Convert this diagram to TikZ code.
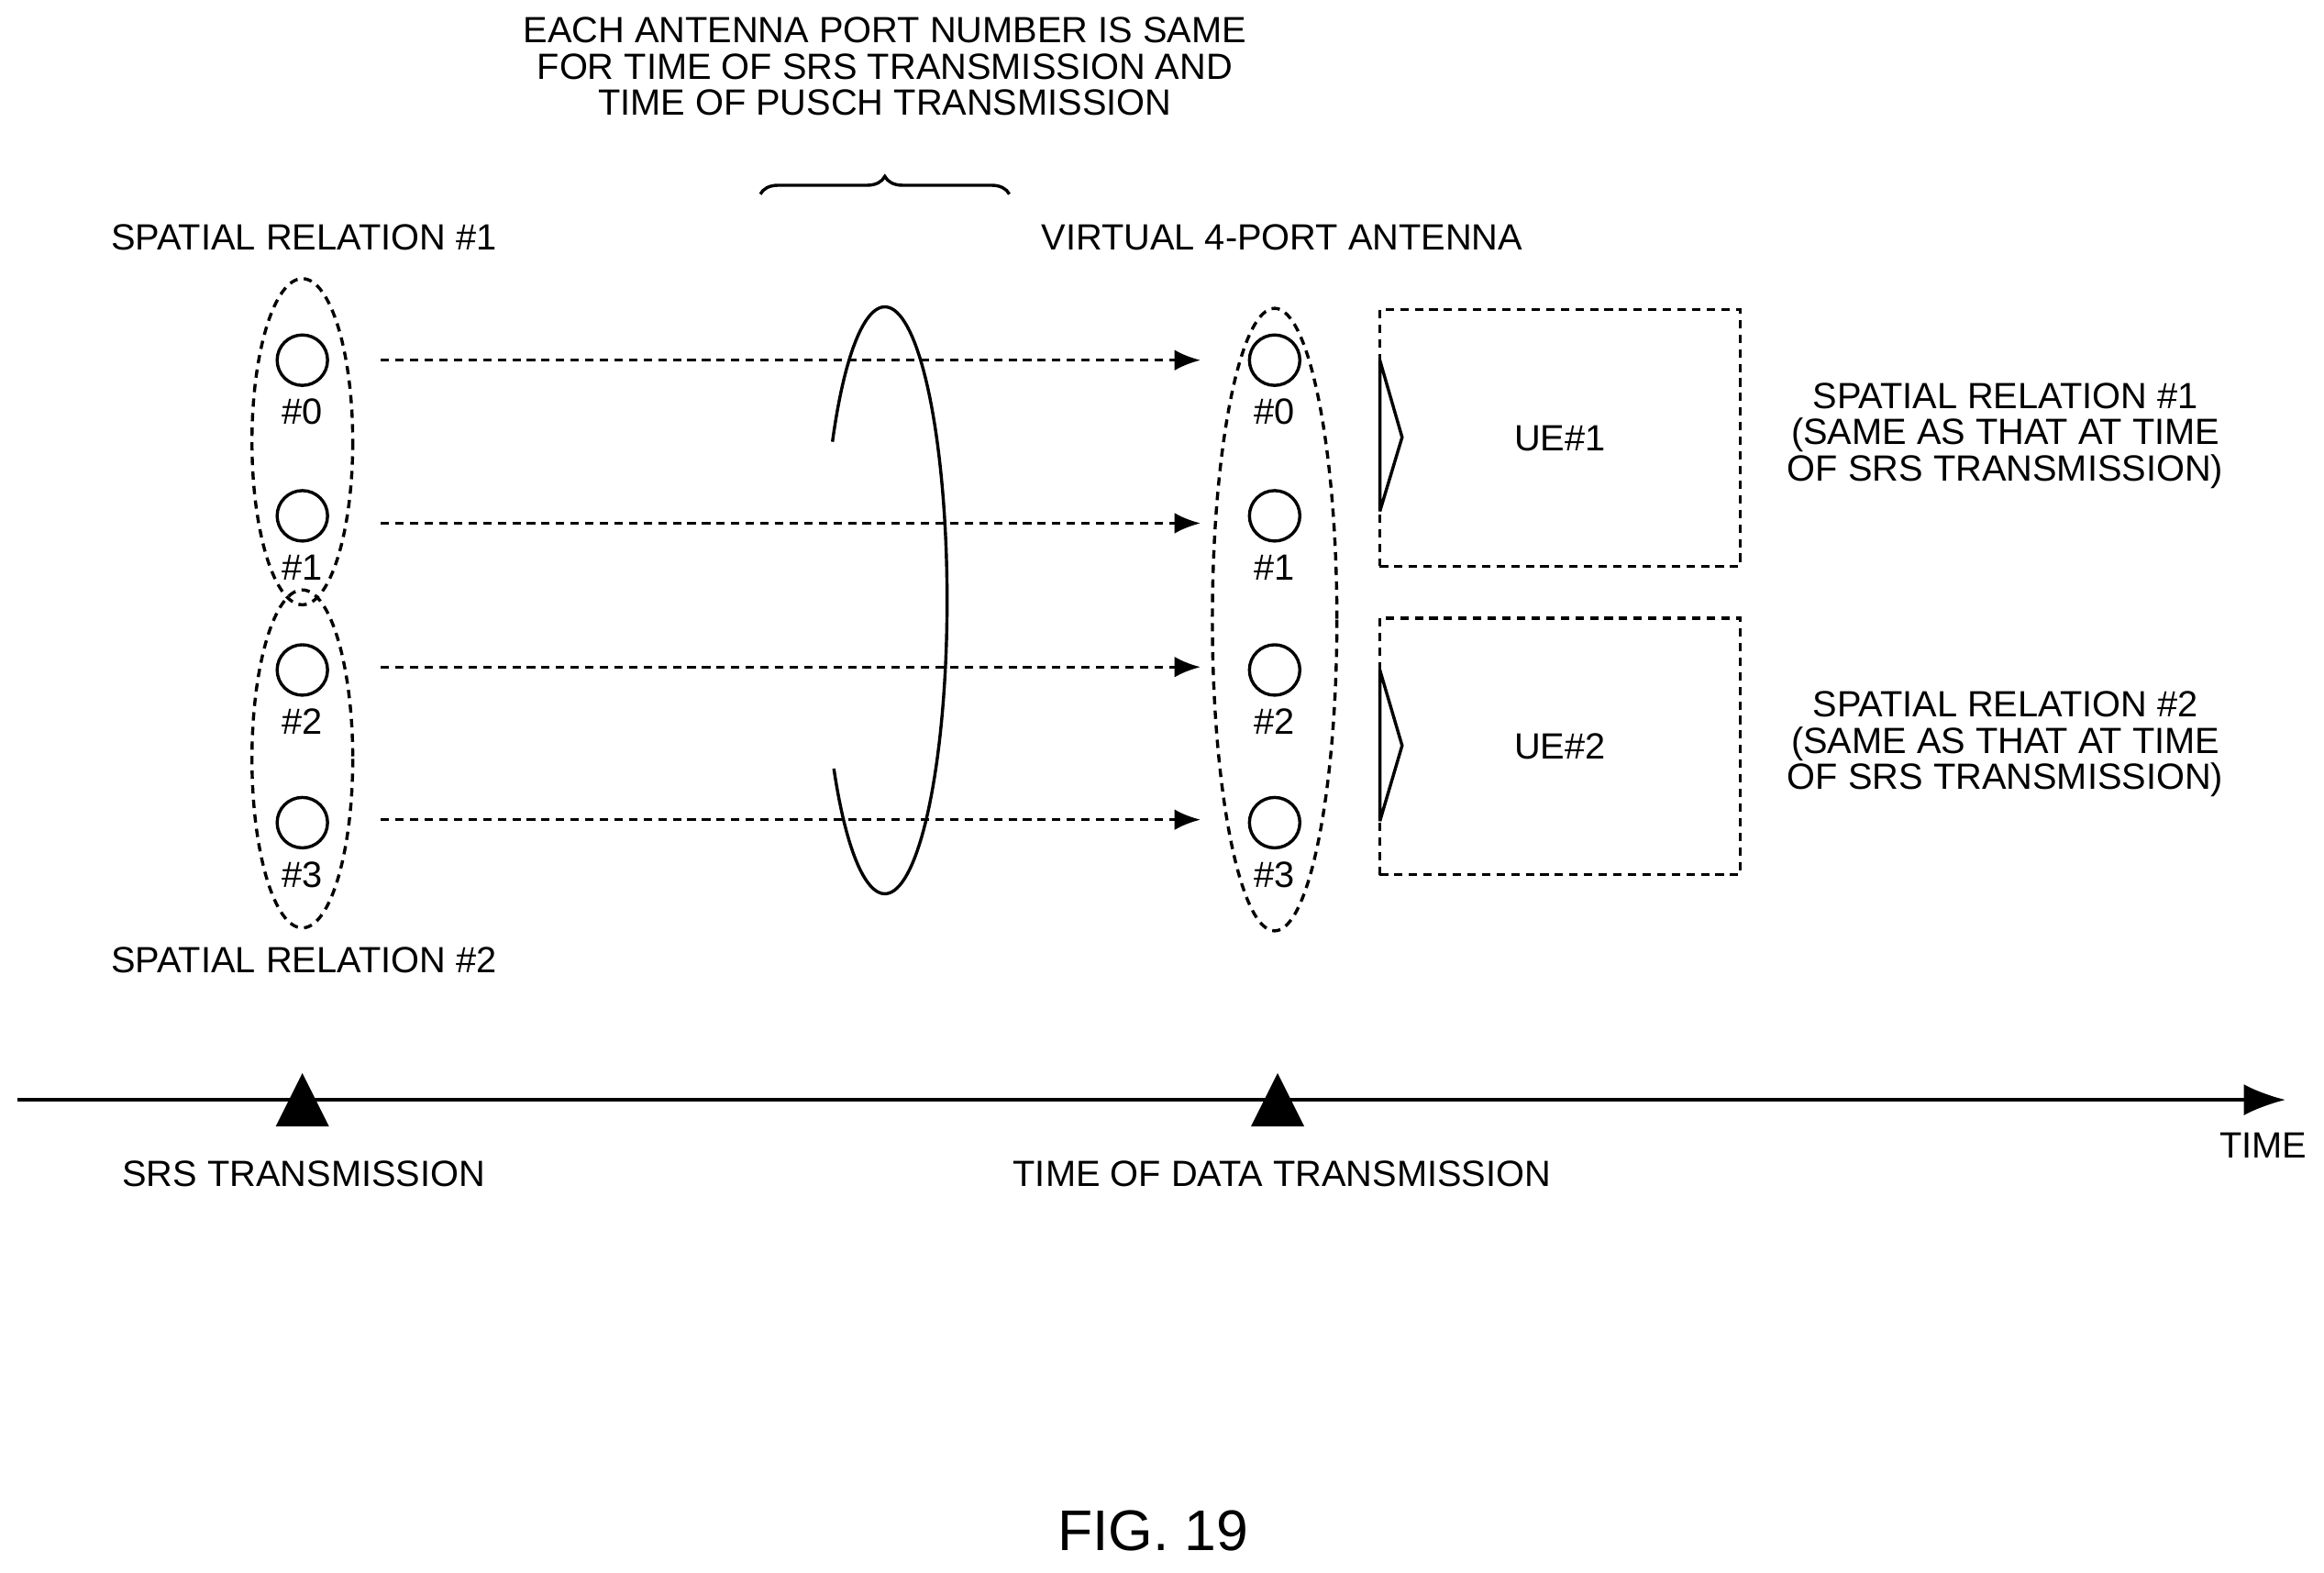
\documentclass[tikz,border=0pt]{standalone}
\usepackage{fontspec}
\setmainfont{Liberation Sans}
\usetikzlibrary{arrows.meta,decorations.pathreplacing}
\begin{document}
\begin{tikzpicture}[x=0.01cm,y=-0.01cm,
  txt/.style={font=\fontsize{7}{6.95}\selectfont,align=center,inner sep=0},
  dsh/.style={line width=0.6pt,dash pattern=on 1.6pt off 1.2pt},
  port/.style={circle,draw,line width=0.6pt,minimum size=0.34cm,inner sep=0},
  arr/.style={dsh,-{Latex[length=5pt,width=4pt]}},
  box/.style={dsh,draw,minimum width=2.43cm,minimum height=1.73cm},
  ln/.style={line width=0.6pt}]
\useasboundingbox (0,0) rectangle (1568,1061);
\node[txt] (top) at (597,45) {EACH ANTENNA PORT NUMBER IS SAME\\FOR TIME OF SRS TRANSMISSION AND\\TIME OF PUSCH TRANSMISSION};
\draw[ln,decorate,decoration={brace,amplitude=0.12cm}] (513,131) -- (681,131);
\node[txt] (sr1) at (205,160) {SPATIAL RELATION \#1};
\node[txt] (v4) at (865,160) {VIRTUAL 4-PORT ANTENNA};
\node[txt] (sr2) at (205,648) {SPATIAL RELATION \#2};
\draw[dsh] (204,298) ellipse [x radius=34,y radius=110];
\draw[dsh] (204,512) ellipse [x radius=34,y radius=114];
\draw[dsh] (860,418) ellipse [x radius=42,y radius=210];
\foreach \i/\y in {0/243,1/348,2/452,3/555}{
  \node[port] (L\i) at (204,\y) {};
  \node[txt] (Ll\i) at (204,\y+35) {\#\i};
  \node[port] (R\i) at (860,\y) {};
  \node[txt] (Rl\i) at (860,\y+35) {\#\i};
}
\foreach \y/\n in {243/a,353/b,450/c,553/d}{
  \coordinate (s\n) at (257,\y); \coordinate (e\n) at (810,\y);
  \draw[arr] (s\n) -- (e\n);
}
\draw[ln] plot[domain=212.7:505,samples=120] ({597+42*cos(\x)},{405+198*sin(\x)});
\node[box] (ue1) at (1052.5,295.5) {};
\node[txt] at (ue1) {UE\#1};
\node[box] (ue2) at (1052.5,503.5) {};
\node[txt] at (ue2) {UE\#2};
\draw[ln] (931,243) -- (931,345) (931,243) -- (946,295) -- (931,345);
\draw[ln] (931,452) -- (931,554) (931,452) -- (946,503) -- (931,554);
\node[txt] (t1) at (1353,294) {SPATIAL RELATION \#1\\(SAME AS THAT AT TIME\\OF SRS TRANSMISSION)};
\node[txt] (t2) at (1353,502) {SPATIAL RELATION \#2\\(SAME AS THAT AT TIME\\OF SRS TRANSMISSION)};
\coordinate (a0) at (12,742); \coordinate (a1) at (1542,742);
\draw[ln,-{Latex[length=8pt,width=6pt]}] (a0) -- (a1);
\fill (186,760) -- (204,724) -- (222,760) -- cycle;
\fill (844,760) -- (862,724) -- (880,760) -- cycle;
\node[txt] (tm) at (1527,773) {TIME};
\node[txt] (srs) at (205,792) {SRS TRANSMISSION};
\node[txt] (tod) at (865,792) {TIME OF DATA TRANSMISSION};
\node[txt,font=\fontsize{11}{12}\selectfont] (fig) at (778,1033) {FIG. 19};
\end{tikzpicture}
\end{document}
